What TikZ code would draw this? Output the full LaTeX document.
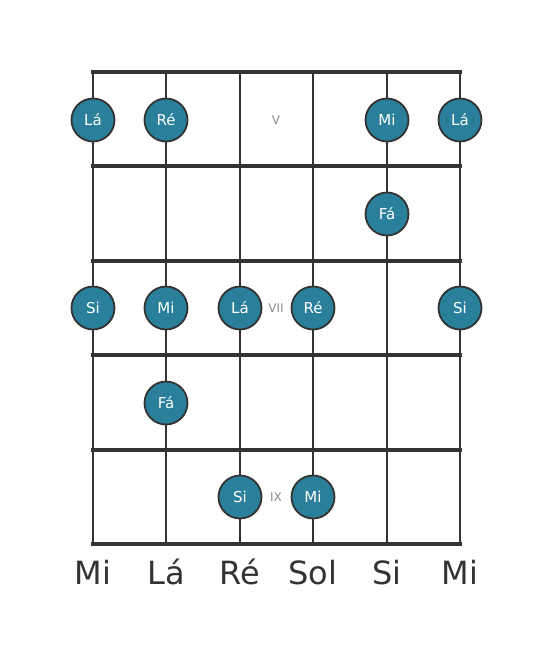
\documentclass[tikz,border=0pt]{standalone}
\usepackage{fontspec}
\setmainfont{DejaVu Sans}
\definecolor{dotfill}{RGB}{42,127,155}
\definecolor{lin}{RGB}{51,51,51}
\definecolor{numc}{RGB}{140,140,140}
\begin{document}
\begin{tikzpicture}[x=1pt,y=-1pt,
  stringline/.style={draw=lin,line width=2.8pt},
  fretline/.style={draw=lin,line width=4.6pt,line cap=rect},
  notedot/.style={circle,fill=dotfill,draw=lin,line width=1.8pt,minimum size=43pt,inner sep=0pt,text=white,font=\fontsize{15pt}{16pt}\selectfont},
  fretnum/.style={text=numc,font=\fontsize{12pt}{13pt}\selectfont,inner sep=0pt},
  strname/.style={text=lin,font=\fontsize{32pt}{33pt}\selectfont,inner sep=0pt,anchor=base}]
\useasboundingbox (0,0) rectangle (553,656);
% strings
\foreach \x/\n in {93/s1,166/s2,240/s3,313/s4,387/s5,460/s6}{
  \coordinate (\n t) at (\x,72);
  \coordinate (\n b) at (\x,544);
  \draw[stringline] (\n t) -- (\n b);
}
% frets
\foreach \y/\n in {72/f0,166/f1,261/f2,355/f3,450/f4,544/f5}{
  \coordinate (\n l) at (93,\y);
  \coordinate (\n r) at (460,\y);
  \draw[fretline] (\n l) -- (\n r);
}
% fret numbers
\node[fretnum] (n5) at (276,120) {V};
\node[fretnum] (n7) at (276,308) {VII};
\node[fretnum] (n9) at (276,497) {IX};
% dots
\node[notedot] (d1) at (93,120) {Lá};
\node[notedot] (d2) at (166,120) {Ré};
\node[notedot] (d3) at (387,120) {Mi};
\node[notedot] (d4) at (460,120) {Lá};
\node[notedot] (d5) at (387,214) {Fá};
\node[notedot] (d6) at (93,308) {Si};
\node[notedot] (d7) at (166,308) {Mi};
\node[notedot] (d8) at (240,308) {Lá};
\node[notedot] (d9) at (313,308) {Ré};
\node[notedot] (d10) at (460,308) {Si};
\node[notedot] (d11) at (166,403) {Fá};
\node[notedot] (d12) at (240,497) {Si};
\node[notedot] (d13) at (313,497) {Mi};
% string names
\node[strname] (l1) at (93,584) {Mi};
\node[strname] (l2) at (166,584) {Lá};
\node[strname] (l3) at (240,584) {Ré};
\node[strname] (l4) at (313,584) {Sol};
\node[strname] (l5) at (387,584) {Si};
\node[strname] (l6) at (460,584) {Mi};
\end{tikzpicture}
\end{document}
